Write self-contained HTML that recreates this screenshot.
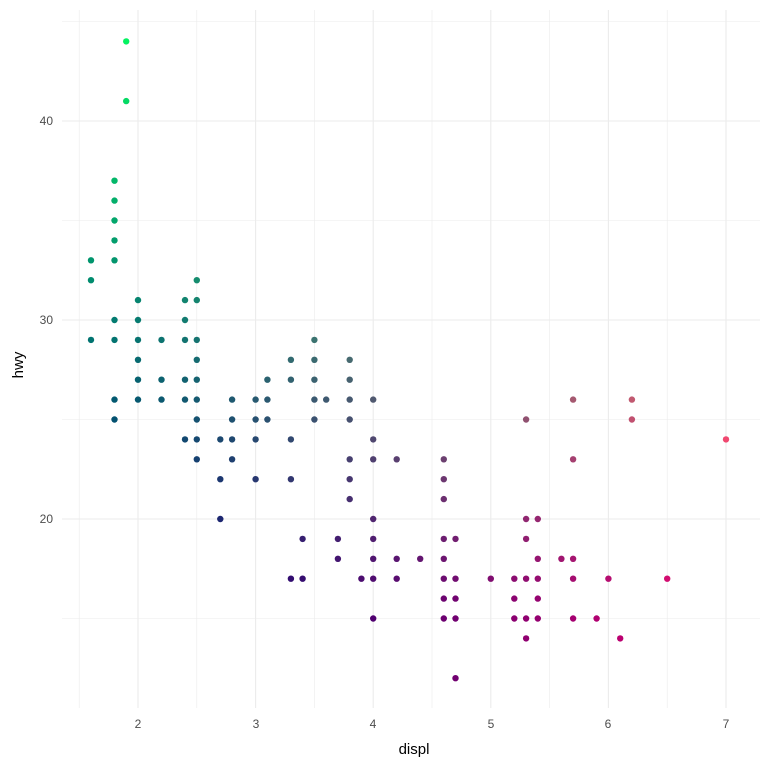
<!DOCTYPE html>
<html><head><meta charset="utf-8"><style>body{margin:0;background:#fff}svg{display:block}</style></head>
<body>
<svg id="s" width="768" height="768" xmlns="http://www.w3.org/2000/svg" font-family="Liberation Sans, sans-serif">
<rect width="768" height="768" fill="#fff"/>
<g id="grid"></g>
<g id="pts"></g>
<g fill="#4d4d4d" font-size="12" text-anchor="middle">
<text x="138" y="728">2</text><text x="256" y="728">3</text><text x="373" y="728">4</text>
<text x="491" y="728">5</text><text x="608" y="728">6</text><text x="726" y="728">7</text>
</g>
<g fill="#4d4d4d" font-size="12" text-anchor="end">
<text x="53" y="125">40</text><text x="53" y="324">30</text><text x="53" y="523">20</text>
</g>
<text x="414" y="754" font-size="15" text-anchor="middle" fill="#000">displ</text>
<text transform="translate(23,365) rotate(-90)" font-size="15" text-anchor="middle" fill="#000">hwy</text>
</svg>
<script>
const X=d=>138+(d-2)*117.6, Y=h=>121+(40-h)*19.9;
let g='';
for(let v=1.5;v<=7.01;v+=0.5){const x=X(v);g+=`<line x1="${x}" x2="${x}" y1="10" y2="708" stroke="#ebebeb" stroke-width="${v%1?0.6:1.1}"/>`;}
for(let v=15;v<=45;v+=5){const y=Y(v);g+=`<line x1="62" x2="760" y1="${y}" y2="${y}" stroke="#ebebeb" stroke-width="${v%10?0.6:1.1}"/>`;}
document.getElementById('grid').innerHTML=g;
const D={1.6:[33,32,29],1.8:[37,36,35,34,33,30,29,26,25],1.9:[44,41],2.0:[31,30,29,28,27,26],2.2:[29,27,26],2.4:[31,30,29,27,26,24],2.5:[32,31,29,28,27,26,25,24,23],2.7:[24,22,20],2.8:[26,25,24,23],3.0:[26,25,24,22],3.1:[27,26,25],3.3:[28,27,24,22,17],3.4:[19,17],3.5:[29,28,27,26,25],3.6:[26],3.7:[19,18],3.8:[28,27,26,25,23,22,21],3.9:[17],4.0:[26,24,23,20,19,18,17,15],4.2:[23,18,17],4.4:[18],4.6:[23,22,21,19,18,17,16,15],4.7:[19,17,16,15,12],5.0:[17],5.2:[17,16,15],5.3:[25,20,19,17,15,14],5.4:[20,18,17,16,15],5.6:[18],5.7:[26,23,18,17,15],5.9:[15],6.0:[17],6.1:[14],6.2:[26,25],6.5:[17],7.0:[24]};
let p='';
for(const k in D){const d=+k;for(const h of D[k]){
const rr=0.94*Math.pow((d-1.6)/5.4,1.35);
const gg=Math.max(0,Math.min(1,(h-15.5)/30));
const bb=0.44-0.06*Math.max(0,(h-30)/14);
const c=`rgb(${Math.round(255*rr)},${Math.round(255*gg)},${Math.round(255*bb)})`;
p+=`<circle cx="${X(d).toFixed(1)}" cy="${Y(h).toFixed(1)}" r="3.2" fill="${c}"/>`;}}
document.getElementById('pts').innerHTML=p;
</script>
</body></html>
